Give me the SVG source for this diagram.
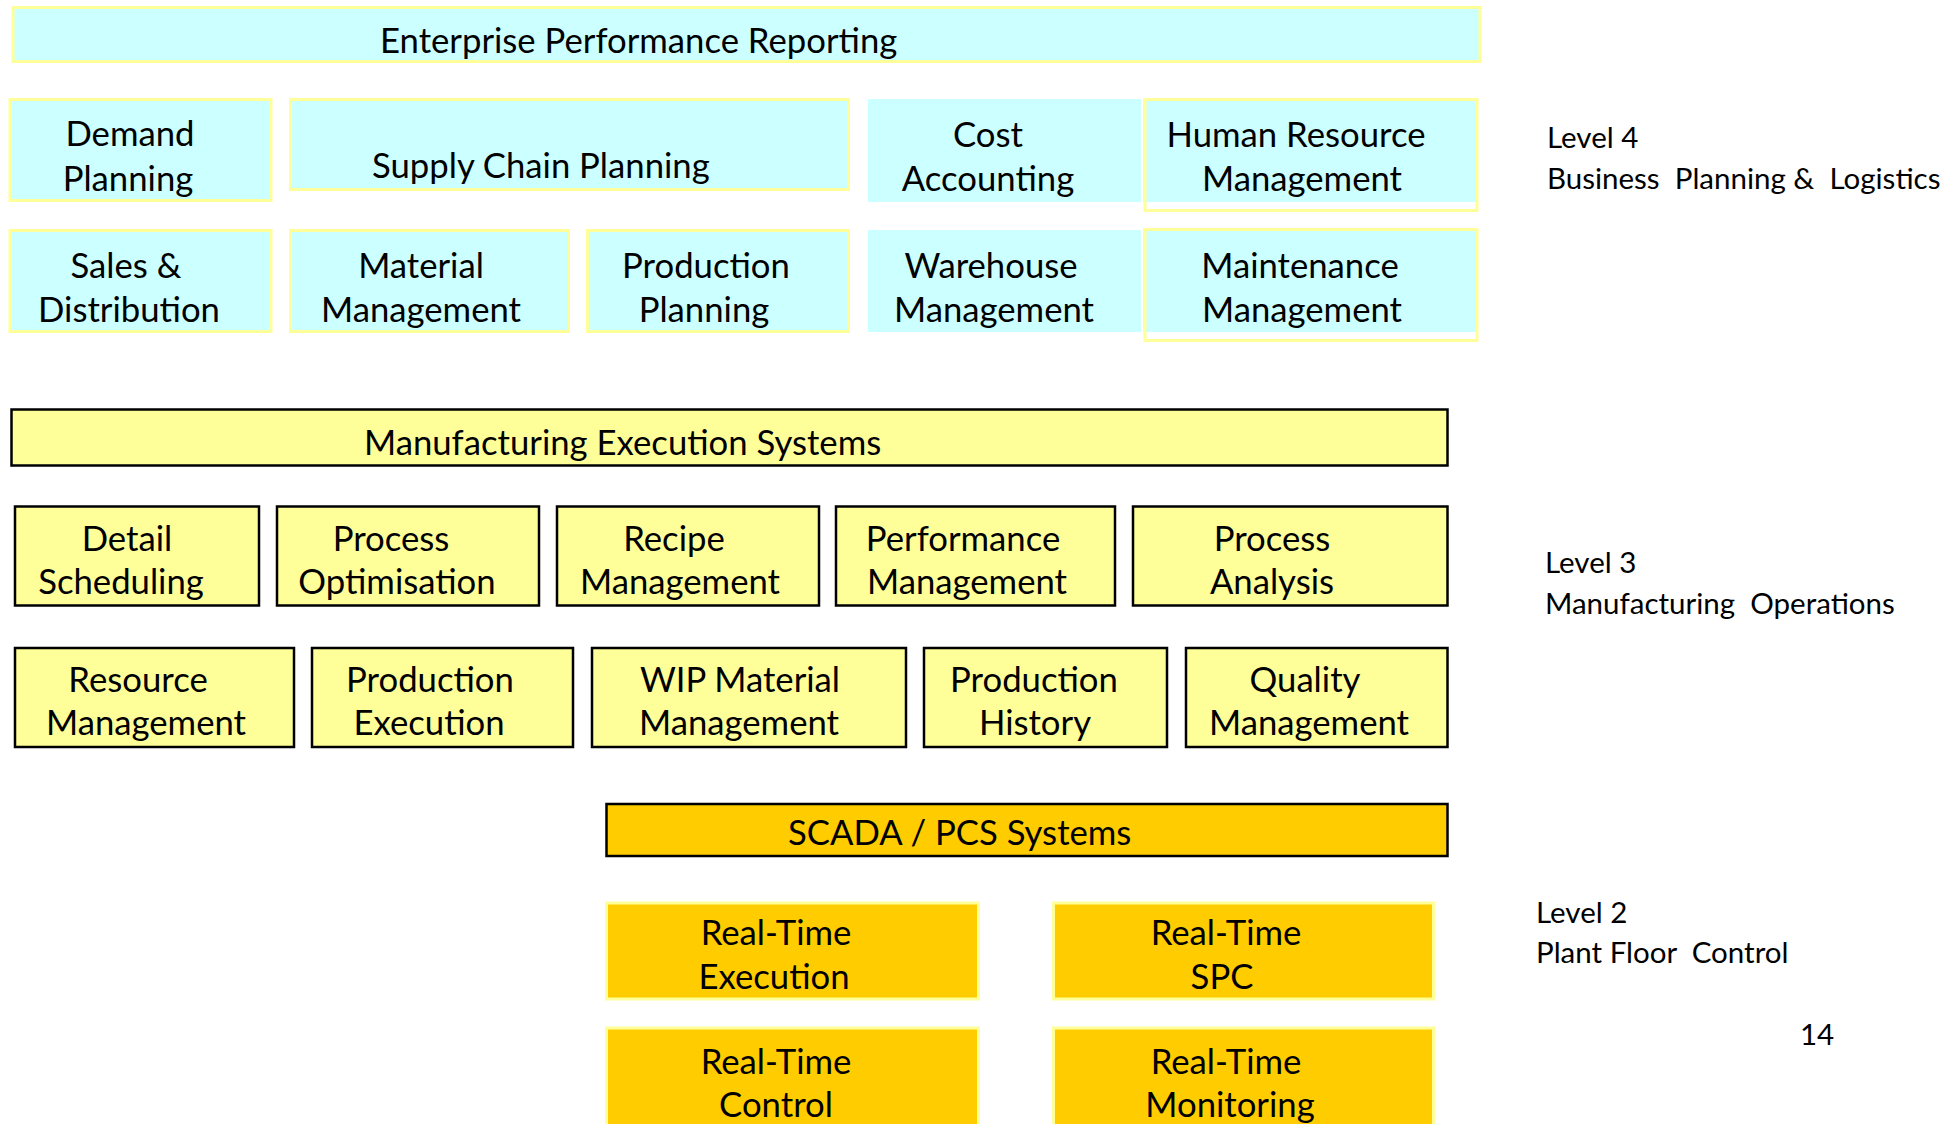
<svg xmlns="http://www.w3.org/2000/svg" width="1957" height="1124" viewBox="0 0 1957 1124">
<style>
text{font-family:Lato,"Open Sans","Liberation Sans",sans-serif;fill:#000}
.t{font-size:34.7px}
.c{text-anchor:middle}
.lv{font-size:29.5px}
.l4{fill:#CCFFFF;stroke:#FFFF99;stroke-width:3}
.l4n{fill:#CCFFFF;stroke:none}
.ol{fill:none;stroke:#FFFF99;stroke-width:3}
.l3{fill:#FFFF99;stroke:#000;stroke-width:2.5}
.l2b{fill:#FFCC00;stroke:#000;stroke-width:2.5}
.l2{fill:#FFCC00;stroke:#FFFF99;stroke-width:3}
</style>
<rect width="1957" height="1124" fill="#fff"/>
<g id="connectors"></g>

<g id="enterprise"><rect class="l4" x="13" y="7.5" width="1467" height="54"/><text class="t" x="380" y="53">Enterprise Performance Reporting</text></g>

<g id="demand-planning"><rect class="l4" x="10" y="99.5" width="261" height="101"/><text class="t c" x="130" y="146">Demand</text><text class="t c" x="128" y="191">Planning</text></g>
<g id="supply-chain-planning"><rect class="l4" x="290.5" y="99.5" width="558" height="90"/><text class="t" x="372" y="178">Supply Chain Planning</text></g>
<g id="cost-accounting"><rect class="l4n" x="868" y="99" width="273" height="103"/><text class="t c" x="988" y="147">Cost</text><text class="t c" x="988" y="191">Accounting</text></g>
<g id="hr-management"><rect class="l4n" x="1143" y="99" width="335" height="103"/><rect class="ol" x="1145" y="99.5" width="332" height="111"/><text class="t c" x="1296" y="147">Human Resource</text><text class="t c" x="1302" y="191">Management</text></g>

<g id="sales-distribution"><rect class="l4" x="10" y="230.5" width="261" height="101"/><text class="t c" x="126" y="278">Sales &amp;</text><text class="t c" x="129" y="322">Distribution</text></g>
<g id="material-management"><rect class="l4" x="290.5" y="230.5" width="278" height="101"/><text class="t c" x="421" y="278">Material</text><text class="t c" x="421" y="322">Management</text></g>
<g id="production-planning"><rect class="l4" x="587.5" y="230.5" width="261" height="101"/><text class="t c" x="706" y="278">Production</text><text class="t c" x="704" y="322">Planning</text></g>
<g id="warehouse-management"><rect class="l4n" x="868" y="230" width="273" height="102"/><text class="t c" x="991" y="278">Warehouse</text><text class="t c" x="994" y="322">Management</text></g>
<g id="maintenance-management"><rect class="l4n" x="1143" y="229" width="335" height="103"/><rect class="ol" x="1145" y="229.5" width="332" height="111"/><text class="t c" x="1300" y="278">Maintenance</text><text class="t c" x="1302" y="322">Management</text></g>

<g id="level4-label"><text class="lv" x="1547" y="148">Level 4</text><text class="lv" x="1547" y="189" xml:space="preserve">Business  Planning &amp;  Logistics</text></g>

<g id="mes"><rect class="l3" x="11.5" y="409.5" width="1436" height="56"/><text class="t" x="364" y="455">Manufacturing Execution Systems</text></g>

<g id="detail-scheduling"><rect class="l3" x="15" y="506.5" width="244" height="99"/><text class="t c" x="127" y="551">Detail</text><text class="t c" x="121" y="594">Scheduling</text></g>
<g id="process-optimisation"><rect class="l3" x="277" y="506.5" width="262" height="99"/><text class="t c" x="391" y="551">Process</text><text class="t c" x="397" y="594">Optimisation</text></g>
<g id="recipe-management"><rect class="l3" x="557" y="506.5" width="262" height="99"/><text class="t c" x="674" y="551">Recipe</text><text class="t c" x="680" y="594">Management</text></g>
<g id="performance-management"><rect class="l3" x="836" y="506.5" width="279" height="99"/><text class="t c" x="963" y="551">Performance</text><text class="t c" x="967" y="594">Management</text></g>
<g id="process-analysis"><rect class="l3" x="1133" y="506.5" width="314.5" height="99"/><text class="t c" x="1272" y="551">Process</text><text class="t c" x="1272" y="594">Analysis</text></g>

<g id="resource-management"><rect class="l3" x="15" y="648" width="279" height="99"/><text class="t c" x="138" y="692">Resource</text><text class="t c" x="146" y="735">Management</text></g>
<g id="production-execution"><rect class="l3" x="312" y="648" width="261" height="99"/><text class="t c" x="430" y="692">Production</text><text class="t c" x="429" y="735">Execution</text></g>
<g id="wip-material-management"><rect class="l3" x="592" y="648" width="314" height="99"/><text class="t c" x="740" y="692">WIP Material</text><text class="t c" x="739" y="735">Management</text></g>
<g id="production-history"><rect class="l3" x="924" y="648" width="243" height="99"/><text class="t c" x="1034" y="692">Production</text><text class="t c" x="1035" y="735">History</text></g>
<g id="quality-management"><rect class="l3" x="1186" y="648" width="261.5" height="99"/><text class="t c" x="1305" y="692">Quality</text><text class="t c" x="1309" y="735">Management</text></g>

<g id="level3-label"><text class="lv" x="1545" y="573">Level 3</text><text class="lv" x="1545" y="614" xml:space="preserve">Manufacturing  Operations</text></g>

<g id="scada"><rect class="l2b" x="606.5" y="804" width="841" height="52"/><text class="t" x="788" y="845">SCADA / PCS Systems</text></g>

<g id="rt-execution"><rect class="l2" x="606.5" y="903" width="372" height="96"/><text class="t c" x="776" y="945">Real-Time</text><text class="t c" x="774" y="989">Execution</text></g>
<g id="rt-spc"><rect class="l2" x="1053.5" y="903" width="380" height="96"/><text class="t c" x="1226" y="945">Real-Time</text><text class="t c" x="1222" y="989">SPC</text></g>
<g id="rt-control"><rect class="l2" x="606.5" y="1028" width="372" height="110"/><text class="t c" x="776" y="1074">Real-Time</text><text class="t c" x="776" y="1117">Control</text></g>
<g id="rt-monitoring"><rect class="l2" x="1053.5" y="1028" width="380" height="110"/><text class="t c" x="1226" y="1074">Real-Time</text><text class="t c" x="1230" y="1117">Monitoring</text></g>

<g id="level2-label"><text class="lv" x="1536" y="923">Level 2</text><text class="lv" x="1536" y="963" xml:space="preserve">Plant Floor  Control</text></g>
<text class="lv" x="1800" y="1045">14</text>
</svg>
